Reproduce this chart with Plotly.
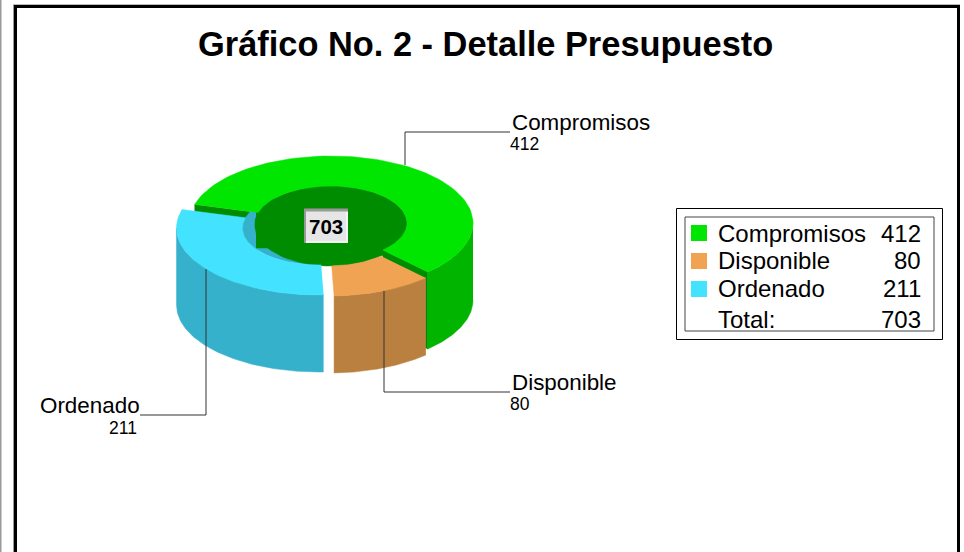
import numpy as np
import plotly.graph_objects as go

categories = ["Compromisos", "Disponible", "Ordenado"]
values = [412, 80, 211]
total_label = "Total:"
title_text = "Gráfico No. 2 - Detalle Presupuesto"

total = sum(values)
TOP = ["#00E600", "#F0A352", "#43E3FF"]
WALL = ["#00B400", "#BA803F", "#35B1CC"]
DARK = "#008C00"
FONT = "Liberation Sans"

# projection of the ring, in page pixels
RX, RY, IRX, IRY, DEPTH = 142, 67, 76, 37, 77
START = 196
CENTERS = [(331, 223), (329, 229), (318.5, 228)]

fig = go.Figure()


def poly(xs, ys, color):
    fig.add_trace(go.Scatter(x=list(xs), y=list(ys), mode="lines", fill="toself",
                             fillcolor=color, line=dict(width=0.5, color=color),
                             hoverinfo="skip", showlegend=False))


def line(xs, ys, color="#333333", width=1):
    fig.add_trace(go.Scatter(x=xs, y=ys, mode="lines", line=dict(color=color, width=width),
                             hoverinfo="skip", showlegend=False))


def arc(c, rx, ry, a0, a1, dy=0):
    t = np.radians(np.linspace(a0, a1, 90))
    return c[0] + rx * np.cos(t), c[1] + ry * np.sin(t) + dy


spans = []
a = START
for v in values:
    b = a + v / total * 360
    spans.append((a, b))
    a = b

# cut faces of the main slice
c = CENTERS[0]
for ang in spans[0]:
    t = np.radians(ang)
    xo, yo = c[0] + RX * np.cos(t), c[1] + RY * np.sin(t)
    xi, yi = c[0] + IRX * np.cos(t), c[1] + IRY * np.sin(t)
    poly([xo, xi, xi, xo], [yo, yi, yi + DEPTH, yo + DEPTH], DARK)

# outer walls (front half only)
for i, (a0, b0) in enumerate(spans):
    ranges = [(max(a0, 0), min(b0, 180)), (max(a0, 360), min(b0, 540))]
    for lo, hi in ranges:
        if hi > lo:
            x, y = arc(CENTERS[i], RX, RY, lo, hi)
            xb, yb = arc(CENTERS[i], RX, RY, hi, lo, DEPTH)
            poly(np.r_[x, xb], np.r_[y, yb], WALL[i])

# hole: inner wall of the left slice, then the dark well
x, y = arc(CENTERS[2], IRX, IRY, 0, 360)
poly(x, y, WALL[2])
x, y = arc((331, 226), IRX, 40, 0, 360)
poly(x, y, DARK)
x, y = arc(CENTERS[0], IRX, IRY, 0, 360)
poly(x, y, DARK)
poly([256, 290, 290, 256], [211, 211, 248, 248], DARK)

# top faces
for i, (a0, b0) in enumerate(spans):
    x, y = arc(CENTERS[i], RX, RY, a0, b0)
    xi, yi = arc(CENTERS[i], IRX, IRY, b0, a0)
    poly(np.r_[x, xi], np.r_[y, yi], TOP[i])

# leader lines
line([405, 405, 510], [165, 132, 132])
line([384, 384, 510], [291, 392, 392])
line([206, 206, 140], [269, 415, 415])

# legend swatches
for i, yy in enumerate([233, 261, 289]):
    fig.add_trace(go.Scatter(x=[699], y=[yy], mode="markers",
                             marker=dict(symbol="square", size=16, color=TOP[i], line=dict(width=0)),
                             hoverinfo="skip", showlegend=False))

shapes = [
    dict(type="line", x0=0.5, x1=0.5, y0=0, y1=552, line=dict(color="#999999", width=2)),
    dict(type="line", x0=13.5, x1=13.5, y0=4, y1=552, line=dict(color="#999999", width=1)),
    dict(type="line", x0=13, x1=960, y0=4.5, y1=4.5, line=dict(color="#BBBBBB", width=1)),
    dict(type="line", x0=15.5, x1=15.5, y0=5, y1=552, line=dict(color="black", width=3)),
    dict(type="line", x0=14, x1=960, y0=6.5, y1=6.5, line=dict(color="black", width=3)),
    dict(type="line", x0=958.5, x1=958.5, y0=5, y1=552, line=dict(color="black", width=3)),
    dict(type="rect", x0=676.5, x1=942.5, y0=208.5, y1=339.5, line=dict(color="black", width=1)),
    dict(type="rect", x0=685, x1=934, y0=217, y1=331, line=dict(color="#444444", width=1)),
    dict(type="rect", x0=304, x1=348, y0=209, y1=243, fillcolor="#E6E6E6", line=dict(width=0), layer="above"),
    dict(type="line", x0=304, x1=348, y0=210, y1=210, line=dict(color="#999999", width=3)),
    dict(type="line", x0=305, x1=305, y0=209, y1=243, line=dict(color="#999999", width=2)),
    dict(type="line", x0=347, x1=347, y0=212, y1=243, line=dict(color="#F4F4F4", width=2)),
    dict(type="line", x0=306, x1=348, y0=242, y1=242, line=dict(color="#F4F4F4", width=2)),
]

ann = []


def text(s, x, y, size, anchor="left", bold=False):
    ann.append(dict(x=x, y=y, xref="x", yref="y", text=f"<b>{s}</b>" if bold else s, showarrow=False,
                    xanchor=anchor, yanchor="middle", font=dict(family=FONT, size=size, color="black"),
                    borderpad=0, borderwidth=0))


text(title_text, 485.5, 44, 34.4, "center", True)
text(categories[0], 512, 122, 22.4)
text(str(values[0]), 510, 144, 17.5)
text(categories[1], 512, 382, 22.4)
text(str(values[1]), 510, 404, 17.5)
text(categories[2], 139.5, 405, 22.4, "right")
text(str(values[2]), 137, 428, 17.5, "right")
text(str(total), 326, 226, 20.5, "center", True)
for i, yy in enumerate([233, 260.5, 288.5]):
    text(categories[i], 718, yy, 24)
    text(str(values[i]), 921, yy, 24, "right")
text(total_label, 718, 319.5, 24)
text(str(total), 921, 319.5, 24, "right")

fig.update_layout(
    width=964, height=552, margin=dict(l=0, r=0, t=0, b=0),
    paper_bgcolor="white", plot_bgcolor="white", showlegend=False,
    xaxis=dict(range=[0, 964], visible=False, fixedrange=True),
    yaxis=dict(range=[552, 0], visible=False, fixedrange=True),
    shapes=shapes, annotations=ann,
)
fig.write_html("out.html", config={"displayModeBar": False},
               post_script="document.body.style.margin='0';document.documentElement.style.overflow='hidden';")
